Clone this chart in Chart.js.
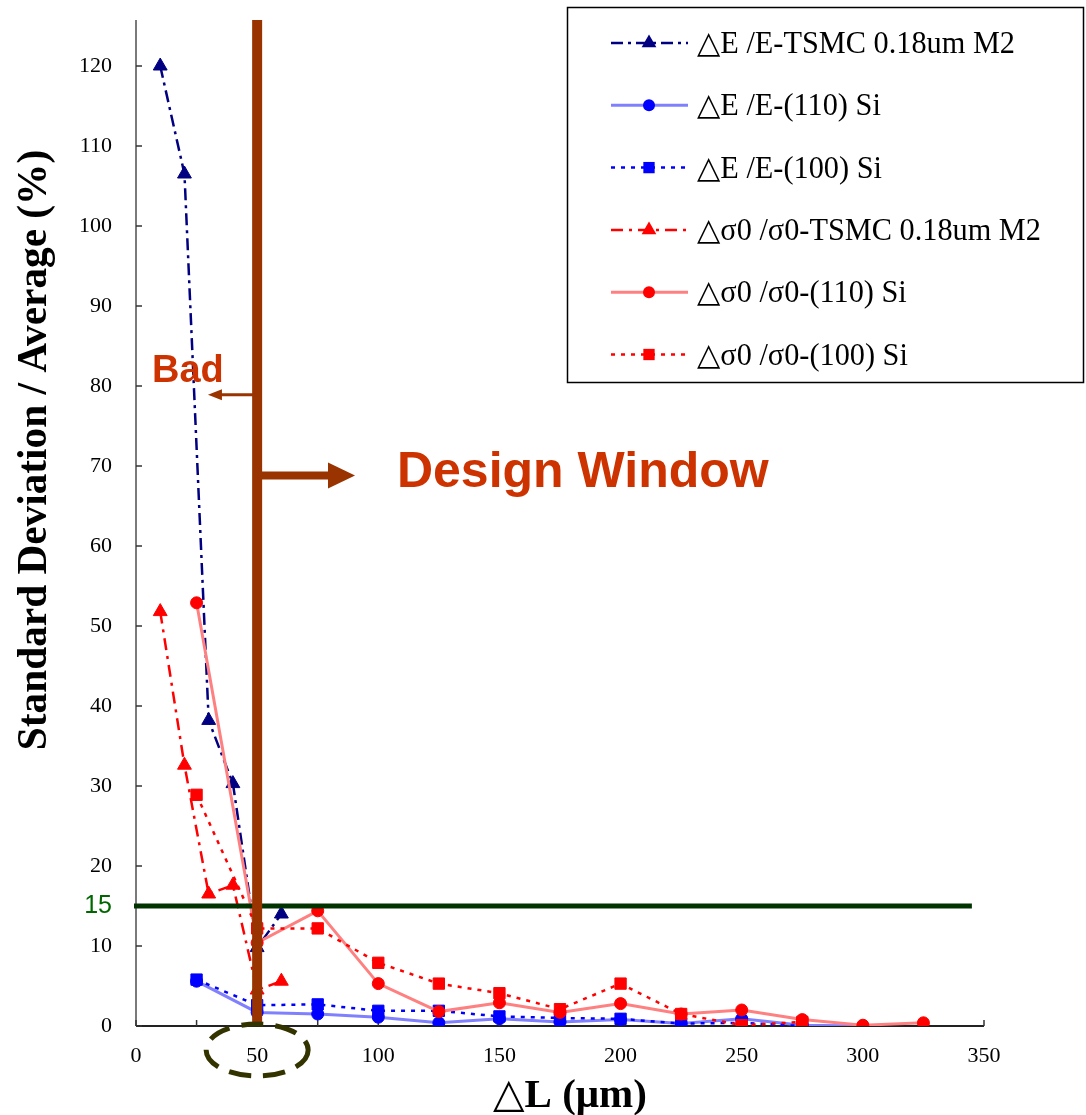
<!DOCTYPE html>
<html><head><meta charset="utf-8">
<script src="https://cdn.jsdelivr.net/npm/chart.js@4.4.1/dist/chart.umd.min.js"></script>
<style>html,body{margin:0;padding:0;background:#fff;} #wrap{position:relative;width:1086px;height:1115px;}</style>
</head><body><div id="wrap"><canvas id="c"></canvas></div>
<script>
// ---- data ----
const xTsmc = [10, 20, 30, 40, 50, 60];
const eTsmc = [120, 106.5, 38.2, 30.3, 9.8, 14.0];
const sTsmc = [51.8, 32.6, 16.5, 17.6, 4.5, 5.6];
const xSi = [25, 50, 75, 100, 125, 150, 175, 200, 225, 250, 275, 300, 325];
const e110 = [5.6, 1.7, 1.5, 1.1, 0.4, 0.9, 0.5, 0.8, 0.3, 0.9, 0.1, 0.0];
const e100 = [5.8, 2.6, 2.7, 1.9, 1.9, 1.2, 1.0, 0.9, 0.3, 0.4, 0.0];
const s110 = [52.9, 10.4, 14.4, 5.3, 1.8, 2.9, 1.7, 2.8, 1.5, 2.0, 0.8, 0.1, 0.4];
const s100 = [28.9, 12.2, 12.2, 7.9, 5.3, 4.1, 2.1, 5.3, 1.5, 0.1, 0.5];
const seriesLabels = [
  "\u25B3E /E-TSMC 0.18um M2",
  "\u25B3E /E-(110) Si",
  "\u25B3E /E-(100) Si",
  "\u25B3\u03C30 /\u03C30-TSMC 0.18um M2",
  "\u25B3\u03C30 /\u03C30-(110) Si",
  "\u25B3\u03C30 /\u03C30-(100) Si"
];
const xTickValues = [0, 50, 100, 150, 200, 250, 300, 350];
const xMinorTickValues = [0, 25, 50, 75, 100, 125, 150, 175, 200, 225, 250, 275, 300, 325, 350];
const yTickValues = [0, 10, 15, 20, 30, 40, 50, 60, 70, 80, 90, 100, 110, 120];
const thresholdValue = 15;
const windowEdge = 50;
const xTitle = "\u25B3L (\u03BCm)";
const yTitle = "Standard Deviation / Average (%)";
const badText = "Bad";
const windowText = "Design Window";

function pts(xs, ys) { return ys.map((v, i) => ({ x: xs[i], y: v })); }

const SERIF = '"Liberation Serif", "Times New Roman", "DejaVu Serif", serif';
const SANS = '"Liberation Sans", Arial, "DejaVu Sans", sans-serif';

const datasets = [
  { label: seriesLabels[0], data: pts(xTsmc, eTsmc), borderColor: '#000080', backgroundColor: '#000080',
    borderDash: [12, 5, 3, 5], borderWidth: 2.5, pointStyle: 'triangle', pointRadius: 8, order: 4 },
  { label: seriesLabels[1], data: pts(xSi, e110), borderColor: '#8080ff', backgroundColor: '#0000ff',
    borderDash: [], borderWidth: 3, pointStyle: 'circle', pointRadius: 6, order: 6 },
  { label: seriesLabels[2], data: pts(xSi, e100), borderColor: '#0000ff', backgroundColor: '#0000ff',
    borderDash: [4, 6], borderWidth: 2.5, pointStyle: 'rect', pointRadius: 8, order: 5 },
  { label: seriesLabels[3], data: pts(xTsmc, sTsmc), borderColor: '#ff0000', backgroundColor: '#ff0000',
    borderDash: [12, 6, 3, 6], borderWidth: 2.5, pointStyle: 'triangle', pointRadius: 8, order: 1 },
  { label: seriesLabels[4], data: pts(xSi, s110), borderColor: '#ff8080', backgroundColor: '#ff0000',
    borderDash: [], borderWidth: 3, pointStyle: 'circle', pointRadius: 6, order: 3 },
  { label: seriesLabels[5], data: pts(xSi, s100), borderColor: '#ff0000', backgroundColor: '#ff0000',
    borderDash: [4, 6], borderWidth: 2.5, pointStyle: 'rect', pointRadius: 8, order: 2 }
].map(d => Object.assign(d, {
  showLine: true, tension: 0, fill: false,
  pointBackgroundColor: d.backgroundColor, pointBorderColor: d.backgroundColor, pointBorderWidth: 1
}));

function arrow(ctx, x0, y, x1, shaft, headLen, headH, color) {
  const dir = Math.sign(x1 - x0);
  ctx.fillStyle = color;
  ctx.strokeStyle = color;
  ctx.lineWidth = shaft;
  ctx.beginPath();
  ctx.moveTo(x0, y);
  ctx.lineTo(x1 - dir * headLen * 0.8, y);
  ctx.stroke();
  ctx.beginPath();
  ctx.moveTo(x1, y);
  ctx.lineTo(x1 - dir * headLen, y - headH / 2);
  ctx.lineTo(x1 - dir * headLen, y + headH / 2);
  ctx.closePath();
  ctx.fill();
}

function marker(ctx, style, x, y, r, color) {
  ctx.fillStyle = color;
  ctx.beginPath();
  if (style === 'circle') { ctx.arc(x, y, r, 0, Math.PI * 2); }
  else if (style === 'rect') { const s = r * Math.SQRT1_2; ctx.rect(x - s, y - s, 2 * s, 2 * s); }
  else { ctx.moveTo(x, y - r); ctx.lineTo(x + r * 0.866, y + r * 0.5); ctx.lineTo(x - r * 0.866, y + r * 0.5); ctx.closePath(); }
  ctx.fill();
}

const decor = {
  id: 'decor',
  beforeDatasetsDraw(chart) {
    const { ctx, chartArea: ca, scales: { x, y } } = chart;
    ctx.save();
    ctx.strokeStyle = '#7a7a7a'; ctx.lineWidth = 2;
    ctx.beginPath(); ctx.moveTo(ca.left, ca.top - 6); ctx.lineTo(ca.left, ca.bottom); ctx.stroke();
    ctx.strokeStyle = '#222'; ctx.lineWidth = 2;
    ctx.beginPath(); ctx.moveTo(ca.left, ca.bottom); ctx.lineTo(ca.right, ca.bottom); ctx.stroke();
    ctx.lineWidth = 1.5; ctx.strokeStyle = '#333';
    yTickValues.forEach(v => {
      if (v === thresholdValue) return;
      const py = y.getPixelForValue(v);
      ctx.beginPath(); ctx.moveTo(ca.left, py); ctx.lineTo(ca.left + 6, py); ctx.stroke();
    });
    xMinorTickValues.forEach(v => {
      const px = x.getPixelForValue(v);
      ctx.beginPath(); ctx.moveTo(px, ca.bottom); ctx.lineTo(px, ca.bottom - 6); ctx.stroke();
    });
    ctx.restore();
  },
  afterDatasetsDraw(chart) {
    const { ctx, chartArea: ca, scales: { x, y } } = chart;
    ctx.save();
    const gy = y.getPixelForValue(thresholdValue);
    ctx.strokeStyle = '#003300'; ctx.lineWidth = 5;
    ctx.beginPath(); ctx.moveTo(ca.left - 2, gy); ctx.lineTo(x.getPixelForValue(345), gy); ctx.stroke();
    const bx = x.getPixelForValue(windowEdge);
    ctx.strokeStyle = '#993300'; ctx.lineWidth = 10;
    ctx.beginPath(); ctx.moveTo(bx, ca.top - 6); ctx.lineTo(bx, ca.bottom); ctx.stroke();
    arrow(ctx, bx, y.getPixelForValue(68.8), x.getPixelForValue(90.4), 8, 27, 26, '#993300');
    arrow(ctx, bx, y.getPixelForValue(78.9), x.getPixelForValue(29.7), 3, 14, 11, '#993300');
    ctx.fillStyle = '#cc3300';
    ctx.textBaseline = 'alphabetic'; ctx.textAlign = 'left';
    ctx.font = 'bold 38px ' + SANS;
    ctx.fillText(badText, x.getPixelForValue(6.6), y.getPixelForValue(80.5));
    ctx.font = 'bold 50px ' + SANS;
    ctx.fillText(windowText, x.getPixelForValue(107.7), y.getPixelForValue(67.4));
    ctx.restore();
  },
  afterDraw(chart) {
    const { ctx, chartArea: ca, scales: { x } } = chart;
    ctx.save();
    ctx.strokeStyle = '#333300'; ctx.lineWidth = 5; ctx.setLineDash([22, 12]);
    ctx.beginPath(); ctx.ellipse(x.getPixelForValue(windowEdge), ca.bottom + 24, 51, 26, 0, 0, Math.PI * 2); ctx.stroke();
    ctx.setLineDash([]);
    ctx.fillStyle = '#000';
    ctx.textAlign = 'center'; ctx.textBaseline = 'alphabetic';
    ctx.font = 'bold 41px ' + SERIF;
    ctx.fillText(xTitle, 570, 1107);
    ctx.font = 'bold 32px ' + SERIF;
    const w = ctx.measureText(yTitle).width;
    const fs = 32 * 600 / w;
    ctx.font = 'bold ' + fs.toFixed(1) + 'px ' + SERIF;
    ctx.translate(46, 450); ctx.rotate(-Math.PI / 2);
    ctx.fillText(yTitle, 0, 0);
    ctx.restore();
    // legend
    ctx.save();
    ctx.fillStyle = '#fff';
    ctx.fillRect(567, 7, 517, 376);
    ctx.strokeStyle = '#000'; ctx.lineWidth = 1.5;
    ctx.strokeRect(567.5, 7.5, 516, 375);
    ctx.font = '31px ' + SERIF;
    const lw = ctx.measureText(seriesLabels[0]).width;
    const sx = 318 / lw;
    ctx.textAlign = 'left'; ctx.textBaseline = 'middle';
    chart.data.datasets.forEach((d, i) => {
      const ry = 43 + i * 62.3;
      ctx.strokeStyle = d.borderColor; ctx.lineWidth = d.borderWidth;
      ctx.setLineDash(d.borderDash || []);
      ctx.beginPath(); ctx.moveTo(611, ry); ctx.lineTo(688, ry); ctx.stroke();
      ctx.setLineDash([]);
      marker(ctx, d.pointStyle, 649, ry, d.pointStyle === 'triangle' ? 8.5 : (d.pointStyle === 'rect' ? 8 : 6), d.backgroundColor);
      ctx.fillStyle = '#000';
      ctx.save();
      ctx.translate(697, ry + 2); ctx.scale(sx, 1);
      ctx.fillText(d.label, 0, 0);
      ctx.restore();
    });
    ctx.restore();
  }
};

new Chart(document.getElementById('c'), {
  type: 'scatter',
  data: { datasets },
  options: {
    responsive: true, maintainAspectRatio: false, animation: false, devicePixelRatio: 1,
    layout: { padding: { left: 0, right: 102, top: 26, bottom: 0 } },
    plugins: { legend: { display: false }, tooltip: { enabled: false } },
    scales: {
      x: {
        type: 'linear', min: 0, max: 350,
        afterBuildTicks: s => { s.ticks = xTickValues.map(v => ({ value: v })); },
        afterFit: s => { s.height = 89; s.paddingLeft = 0; s.paddingRight = 0; },
        grid: { display: false, drawTicks: false }, border: { display: false },
        ticks: { autoSkip: false, maxRotation: 0, padding: 17, color: '#000', font: { family: SERIF, size: 22 } }
      },
      y: {
        type: 'linear', min: 0, max: 125,
        afterBuildTicks: s => { s.ticks = yTickValues.map(v => ({ value: v })); },
        afterFit: s => { s.width = 136; s.paddingTop = 0; s.paddingBottom = 0; },
        grid: { display: false, drawTicks: false }, border: { display: false },
        ticks: {
          autoSkip: false, padding: 24,
          color: c => (c.tick && c.tick.value === thresholdValue) ? '#006600' : '#000',
          font: c => (c.tick && c.tick.value === thresholdValue) ? { family: SANS, size: 25 } : { family: SERIF, size: 22 }
        }
      }
    }
  },
  plugins: [decor]
});
</script></body></html>
